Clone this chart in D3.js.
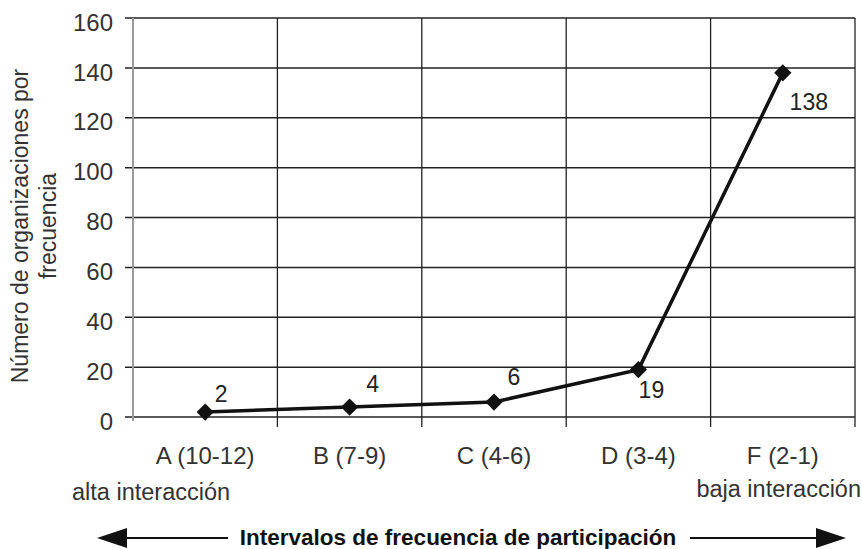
<!DOCTYPE html>
<html><head><meta charset="utf-8">
<script src="https://cdn.jsdelivr.net/npm/d3@7"></script>
<style>body{margin:0;background:#fff}svg{display:block}text{font-family:Arial,"Liberation Sans",sans-serif}</style>
</head><body>
<svg id="c" width="862" height="549"></svg>
<script>
const categories = ["A (10-12)", "B (7-9)", "C (4-6)", "D (3-4)", "F (2-1)"];
const values = [2, 4, 6, 19, 138];
const yTicks = [0, 20, 40, 60, 80, 100, 120, 140, 160];
const yTitle = ["Número de organizaciones por", "frecuencia"];
const xTitle = "Intervalos de frecuencia de participación";
const leftNote = "alta interacción", rightNote = "baja interacción";

const svg = d3.select("#c");
const L = 133, R = 855, T = 18, B = 417;
const x = d3.scaleBand().domain(categories).range([L, R]);
const y = d3.scaleLinear().domain([0, 160]).range([B, T]);
const ink = "#222";

// horizontal grid
svg.append("g").selectAll("line").data(yTicks).join("line")
  .attr("x1", L - 8).attr("x2", R).attr("y1", d => y(d)).attr("y2", d => y(d))
  .attr("stroke", ink).attr("stroke-width", 1.5);
// vertical grid (category boundaries)
const bounds = categories.map(c => x(c) + x.bandwidth());
svg.append("g").selectAll("line").data(bounds).join("line")
  .attr("x1", d => d).attr("x2", d => d).attr("y1", T).attr("y2", B + 10)
  .attr("stroke", ink).attr("stroke-width", 1.3);
// y axis line
svg.append("line").attr("x1", L).attr("x2", L).attr("y1", T).attr("y2", B + 4)
  .attr("stroke", "#999").attr("stroke-width", 2);

// y tick labels
svg.append("g").selectAll("text").data(yTicks).join("text")
  .attr("x", 113).attr("y", d => y(d) + 4).attr("dy", "0.36em").attr("text-anchor", "end")
  .attr("font-size", 24).attr("fill", "#333").text(d => d);

// y title
const yt = svg.append("text").attr("transform", "translate(28,226) rotate(-90)")
  .attr("text-anchor", "middle").attr("font-size", 23).attr("fill", "#333");
yTitle.forEach((t, i) => yt.append("tspan").attr("x", 0).attr("dy", i ? 28 : 0).text(t));

// x labels
svg.append("g").selectAll("text").data(categories).join("text")
  .attr("x", d => x(d) + x.bandwidth() / 2).attr("y", 464).attr("text-anchor", "middle")
  .attr("font-size", 24).attr("fill", "#333").text(d => d);
svg.append("text").attr("x", 72).attr("y", 500).attr("font-size", 23.5).attr("fill", "#333").text(leftNote);
svg.append("text").attr("x", 861).attr("y", 497).attr("text-anchor", "end").attr("font-size", 23.5).attr("fill", "#333").text(rightNote);

// line + markers
const cx = d => x(d) + x.bandwidth() / 2;
svg.append("path").datum(values.map((v, i) => [cx(categories[i]), y(v)]))
  .attr("d", d3.line()).attr("fill", "none").attr("stroke", "#111").attr("stroke-width", 3.5);
svg.append("g").selectAll("path").data(values).join("path")
  .attr("transform", (v, i) => `translate(${cx(categories[i])},${y(v)})`)
  .attr("d", d3.symbol(d3.symbolDiamond2, 190)).attr("fill", "#111");

// data labels
const offs = [[16, -10], [23, -15], [20, -17], [13, 28], [26, 37]];
svg.append("g").selectAll("text").data(values).join("text")
  .attr("x", (v, i) => cx(categories[i]) + offs[i][0]).attr("y", (v, i) => y(v) + offs[i][1])
  .attr("text-anchor", "middle").attr("font-size", 23).attr("fill", "#222").text(d => d);

// bottom arrows and title
const ay = 538;
svg.append("text").attr("x", 458).attr("y", 545).attr("text-anchor", "middle")
  .attr("font-size", 22.5).attr("font-weight", "bold").attr("fill", "#111").text(xTitle);
svg.append("line").attr("x1", 115).attr("x2", 228).attr("y1", ay).attr("y2", ay).attr("stroke", "#111").attr("stroke-width", 2);
svg.append("path").attr("d", `M97,${ay} L127,${ay-10} L127,${ay+10} Z`).attr("fill", "#111");
svg.append("line").attr("x1", 690).attr("x2", 830).attr("y1", ay).attr("y2", ay).attr("stroke", "#111").attr("stroke-width", 2);
svg.append("path").attr("d", `M846,${ay} L816,${ay-10} L816,${ay+10} Z`).attr("fill", "#111");
</script>
</body></html>
